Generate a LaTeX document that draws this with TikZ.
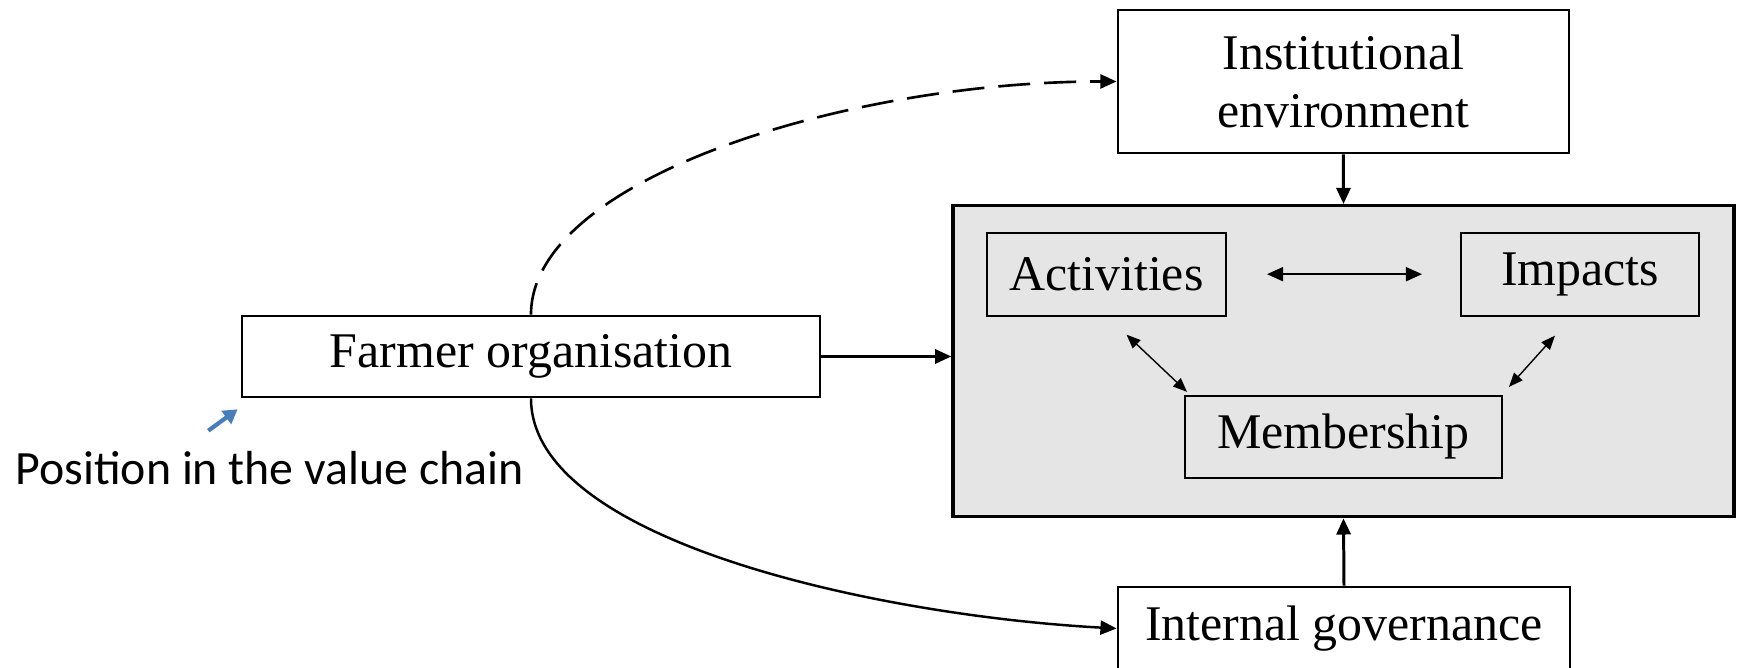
\documentclass[tikz,border=0pt]{standalone}
\usepackage{fontspec}
\setmainfont{Liberation Serif}
\newfontfamily\notefont{Carlito}
\usepackage{tikz}
\usetikzlibrary{arrows.meta}
\usetikzlibrary{positioning}
\definecolor{noteblue}{RGB}{74,126,187}
\tikzset{box/.style = {draw, line width=0.8pt, inner sep=0pt, minimum height=0.81cm,
                       align=center, font=\fontsize{14.2}{16.5}\selectfont}}
\tikzset{inbox/.style = {box, line width=0.55pt, fill=gray!20}}
\tikzset{tip/.style = {-{Triangle[length=4.6pt,width=4pt]}}}
\tikzset{tips/.style = {{Triangle[length=4.6pt,width=4pt]}-{Triangle[length=4.6pt,width=4pt]}}}
\tikzset{thintips/.style = {{Triangle[length=4pt,width=3.2pt]}-{Triangle[length=4pt,width=3.2pt]}}}

\begin{document}
\begin{tikzpicture}
    \useasboundingbox (0, 0) rectangle (17.37, 6.68);

    \node (core) at (13.435, 3.068) [draw, line width=0.95pt, fill=gray!20,
          minimum width=7.81cm, minimum height=3.11cm] {};
    \node (farmer) at (5.31, 3.115) [box, minimum width=5.78cm] {Farmer organisation};
    \node (inst) at (13.434, 5.865) [box, minimum width=4.51cm, minimum height=1.43cm]
          {Institutional\\environment};
    \node (gov) at (13.44, 0.395) [box, minimum width=4.52cm, minimum height=0.83cm] {Internal governance};

    \node (act) at (11.065, 3.938) [inbox, minimum width=2.39cm, minimum height=0.83cm] {Activities};
    \node (imp) at (15.80, 3.938) [inbox, minimum width=2.38cm, minimum height=0.83cm] {Impacts};
    \node (memb) at (13.435, 2.311) [inbox, minimum width=3.17cm, minimum height=0.82cm] {Membership};

    \draw [tip, line width=0.85pt] (farmer.east) -- (farmer.east -| core.west);
    \draw [tip, line width=0.85pt] (inst.south) -- (core.north);
    \draw [tip, line width=0.85pt] (gov.north) -- (core.south);

    \draw [tip, line width=0.75pt, dash pattern=on 0.32cm off 0.14cm]
          (farmer.north) .. controls +(0, 1.36) and +(-2.68, 0) .. (inst.west);
    \draw [tip, line width=0.7pt]
          (farmer.south) .. controls +(0, -1.43) and +(-2.38, 0.13) .. (gov.west);

    \draw [tips, line width=0.55pt, shorten <=0.4cm, shorten >=0.38cm] (act.east) -- (imp.west);
    \draw [thintips, line width=0.4pt]
          ([xshift=0.2cm, yshift=-0.18cm]act.south) -- ([xshift=0.03cm, yshift=0.03cm]memb.north west);
    \draw [thintips, line width=0.4pt]
          ([xshift=-0.25cm, yshift=-0.19cm]imp.south) -- ([xshift=0.06cm, yshift=0.08cm]memb.north east);

    \node (poslabel) at (2.696, 1.83) [anchor=base, inner sep=0pt,
          font=\notefont\fontsize{13.6}{16}\selectfont] {Position in the value chain};
    \coordinate (pos tail) at (2.083, 2.373);
    \coordinate (pos head) at (2.376, 2.587);
    \draw [-{Triangle[length=4pt,width=4.5pt]}, noteblue, line width=1.2pt] (pos tail) -- (pos head);
\end{tikzpicture}
\end{document}
